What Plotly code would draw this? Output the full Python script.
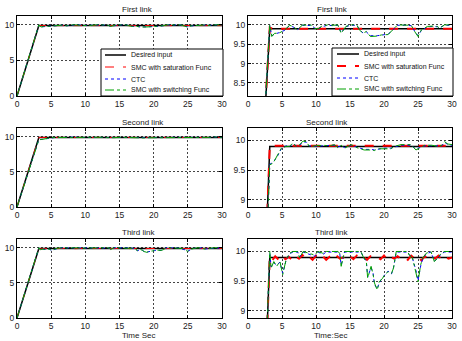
import plotly.graph_objects as go

# ---------------- data ----------------
t_des = [0, 3.2, 30]
desired = [0, 9.9, 9.9]

# First link
t1 = [0, 3.2, 3.5, 3.9, 4.6, 5.4, 6.1, 6.6, 7.3, 8.0, 8.6, 9.3, 9.8, 10.3, 10.8, 11.7, 12.5, 13.2, 13.7, 14.4,
      15.0, 16.0, 16.4, 16.9, 17.4, 18.0, 19.0, 19.6, 20.6, 21.0, 21.5, 22.0, 23.0, 24.0, 24.5, 25.0, 25.5, 26.4,
      27.2, 27.9, 28.1, 28.9, 30]
switch1 = [0, 10.0, 9.70, 9.78, 9.79, 9.87, 9.99, 9.96, 9.87, 10.0, 9.99, 10.0, 9.91, 9.90, 9.96, 10.0, 9.99, 10.0,
           9.78, 9.96, 10.0, 10.0, 9.87, 9.78, 9.83, 9.70, 9.71, 9.74, 9.75, 9.83, 9.91, 10.0, 10.0, 9.99, 9.83,
           9.70, 9.87, 9.96, 9.97, 9.96, 9.91, 10.0, 10.0]
ctc1 = [0, 9.98, 9.72, 9.76, 9.80, 9.86, 9.98, 9.95, 9.88, 9.99, 9.98, 9.99, 9.92, 9.89, 9.95, 9.99, 9.98, 9.99,
        9.80, 9.95, 9.99, 9.99, 9.88, 9.79, 9.82, 9.72, 9.72, 9.73, 9.76, 9.82, 9.90, 9.99, 9.99, 9.98, 9.84,
        9.72, 9.86, 9.95, 9.96, 9.95, 9.92, 9.99, 9.99]
t_sat1 = [0, 3.2, 3.6, 30]
sat1 = [0, 9.93, 9.90, 9.90]

# Second link
t2 = [0, 3.2, 3.7, 4.4, 4.9, 5.6, 6.1, 6.6, 7.1, 7.6, 8.1, 8.6, 9.0, 10.0, 11.0, 12.0, 12.7, 13.2, 13.7, 14.2,
      15.2, 16.2, 17.1, 18.1, 18.6, 19.0, 20.0, 21.0, 21.5, 22.5, 24.0, 24.7, 25.2, 26.0, 27.0, 28.0, 28.5, 28.9,
      29.4, 30]
switch2 = [0, 9.59, 9.62, 9.76, 9.87, 9.90, 9.90, 9.96, 9.90, 9.93, 9.99, 9.98, 9.90, 9.91, 9.92, 9.91, 9.93, 9.88,
           9.92, 9.87, 9.93, 9.87, 9.84, 9.84, 9.83, 9.86, 9.86, 9.86, 9.90, 9.93, 9.93, 9.84, 9.87, 9.92, 9.92,
           9.90, 9.92, 9.98, 9.94, 9.93]
ctc2 = [0, 9.60, 9.63, 9.75, 9.86, 9.91, 9.89, 9.95, 9.91, 9.92, 9.98, 9.97, 9.91, 9.90, 9.91, 9.92, 9.92, 9.89,
        9.91, 9.88, 9.92, 9.88, 9.85, 9.85, 9.84, 9.85, 9.87, 9.87, 9.89, 9.92, 9.92, 9.85, 9.88, 9.91, 9.91,
        9.91, 9.91, 9.97, 9.93, 9.92]
t_sat2 = [0, 3.2, 3.6, 30]
sat2 = [0, 9.91, 9.91, 9.91]

# Third link
t3 = [0, 3.2, 3.4, 3.8, 4.2, 4.7, 5.1, 5.6, 6.1, 6.6, 7.3, 7.6, 8.1, 9.8, 10.3, 11.0, 11.5, 13.2, 13.5, 13.7,
      14.2, 16.6, 16.9, 17.1, 17.4, 17.6, 18.1, 18.4, 18.6, 19.0, 19.3, 19.8, 20.1, 20.6, 21.1, 21.4, 21.8, 23.5,
      23.7, 24.2, 24.7, 25.0, 25.4, 25.7, 26.2, 26.9, 27.4, 27.9, 28.4, 28.9, 30]
switch3 = [0, 10.0, 9.72, 9.83, 9.75, 9.83, 9.61, 9.86, 9.97, 10.0, 10.0, 9.89, 10.0, 9.94, 10.0, 9.97, 10.0, 10.0,
           9.97, 9.75, 10.0, 10.0, 9.92, 9.89, 9.83, 9.55, 9.75, 9.61, 9.47, 9.35, 9.49, 9.55, 9.61, 9.66, 9.63,
           9.72, 10.0, 10.0, 9.94, 9.89, 9.66, 9.49, 9.78, 9.89, 9.97, 10.0, 9.83, 9.89, 9.97, 10.0, 10.0]
ctc3 = [0, 9.98, 9.74, 9.81, 9.77, 9.82, 9.63, 9.85, 9.96, 9.99, 9.99, 9.91, 9.99, 9.92, 9.99, 9.95, 9.99, 9.99,
        9.96, 9.77, 9.99, 9.99, 9.93, 9.88, 9.84, 9.57, 9.73, 9.63, 9.45, 9.37, 9.47, 9.57, 9.60, 9.67, 9.62,
        9.73, 9.99, 9.99, 9.95, 9.88, 9.68, 9.51, 9.76, 9.88, 9.96, 9.99, 9.84, 9.88, 9.96, 9.99, 9.99]
t_sat3 = [0, 3.2, 3.5, 4.0, 4.5, 5.0, 5.5, 6.0, 6.5, 7.0, 7.5, 8.0, 8.5, 9.0, 9.5, 10.0, 10.5, 11.0, 11.5, 12.0,
          12.5, 13.0, 13.5, 14.0, 14.5, 15.0, 15.5, 16.0, 16.5, 17.0, 17.5, 18.0, 18.5, 19.0, 19.5, 20.0, 20.5,
          21.0, 21.5, 22.0, 22.5, 23.0, 23.5, 24.0, 24.5, 25.0, 25.5, 26.0, 26.5, 27.0, 27.5, 28.0, 28.5, 29.0,
          29.5, 30.0]
sat3 = [0, 9.90,
        9.84, 9.92, 9.86, 9.93, 9.87, 9.91, 9.85, 9.92, 9.88, 9.94,
        9.87, 9.91, 9.86, 9.93, 9.88, 9.92, 9.86, 9.91, 9.87, 9.93,
        9.88, 9.90, 9.86, 9.92, 9.87, 9.93, 9.88, 9.91, 9.86, 9.92,
        9.88, 9.90, 9.87, 9.93, 9.86, 9.91, 9.88, 9.92, 9.87, 9.90,
        9.86, 9.93, 9.88, 9.91, 9.85, 9.92, 9.87, 9.91, 9.88, 9.93,
        9.86, 9.91, 9.88, 9.90]

titles = ["First link", "Second link", "Third link"]
legend_names = ["Desired input", "SMC with saturation Func", "CTC", "SMC with switching Func"]
x_titles = ["Time Sec", "Time:Sec"]
x_ticks = [0, 5, 10, 15, 20, 25, 30]

rows = [
    (t1, switch1, ctc1, t_sat1, sat1),
    (t2, switch2, ctc2, t_sat2, sat2),
    (t3, switch3, ctc3, t_sat3, sat3),
]

# ---------------- layout helpers ----------------
W, H = 462, 341
def px(x): return x / W
def py(y): return 1 - y / H

col_x = [(17, 222), (248, 452)]
row_y = [(16, 96), (128, 207), (239, 318)]
left_range = [0, 11.25]
right_ranges = [[8.16, 10.23], [8.88, 10.21], [8.88, 10.21]]
right_ticks = [[8.5, 9, 9.5, 10], [9, 9.5, 10], [9, 9.5, 10]]

FONT = "Liberation Sans, Arial, sans-serif"
RED, BLUE, GREEN = "#ff0000", "#0000ff", "#00a000"

fig = go.Figure()
layout = {}
ax = 0
for r, (tt, sw, ct, ts, sa) in enumerate(rows):
    for c in range(2):
        ax += 1
        xa = "x" if ax == 1 else f"x{ax}"
        ya = "y" if ax == 1 else f"y{ax}"
        red_w = 1 if c == 0 else 2
        fig.add_trace(go.Scatter(x=t_des, y=desired, mode="lines", xaxis=xa, yaxis=ya,
                                 line=dict(color="black", width=1.5), showlegend=False))
        fig.add_trace(go.Scatter(x=ts, y=sa, mode="lines", xaxis=xa, yaxis=ya,
                                 line=dict(color=RED, width=red_w, dash="dash"), showlegend=False))
        fig.add_trace(go.Scatter(x=tt, y=ct, mode="lines", xaxis=xa, yaxis=ya,
                                 line=dict(color=BLUE, width=1, dash="dot"), showlegend=False))
        fig.add_trace(go.Scatter(x=tt, y=sw, mode="lines", xaxis=xa, yaxis=ya,
                                 line=dict(color=GREEN, width=1, dash="dashdot"), showlegend=False))
        xk = "xaxis" if ax == 1 else f"xaxis{ax}"
        yk = "yaxis" if ax == 1 else f"yaxis{ax}"
        x0, x1 = col_x[c]
        y0, y1 = row_y[r]
        common = dict(showline=True, linecolor="black", linewidth=1, mirror="ticks",
                      ticks="inside", ticklen=3, tickcolor="black", automargin=False,
                      showgrid=True, gridcolor="#444444", gridwidth=1, griddash="2px,2px",
                      zeroline=False, tickfont=dict(family=FONT, size=8.5, color="#222"))
        layout[xk] = dict(domain=[px(x0), px(x1)], range=[0, 30], tickvals=x_ticks,
                          anchor=ya, **common)
        if c == 0:
            layout[yk] = dict(domain=[py(y1), py(y0)], range=left_range, tickvals=[0, 5, 10],
                              anchor=xa, **common)
        else:
            layout[yk] = dict(domain=[py(y1), py(y0)], range=right_ranges[r], tickvals=right_ticks[r],
                              anchor=xa, **common)

annotations = []
for r in range(3):
    for c in range(2):
        x0, x1 = col_x[c]
        annotations.append(dict(text=titles[r], x=px((x0 + x1) / 2), y=py(row_y[r][0] - 6),
                                xref="paper", yref="paper", showarrow=False, yanchor="middle",
                                font=dict(family=FONT, size=8, color="#222")))
for c in range(2):
    x0, x1 = col_x[c]
    annotations.append(dict(text=x_titles[c], x=px((x0 + x1) / 2), y=py(335),
                            xref="paper", yref="paper", showarrow=False, yanchor="middle",
                            font=dict(family=FONT, size=8, color="#222")))

shapes = []
# manual legends (compact, MATLAB-like)
legend_boxes = [
    dict(box=(101, 49, 223, 96), line_x=(105, 126), text_x=129, rows=[55, 67, 79, 90], red_w=1),
    dict(box=(332, 48, 453, 96), line_x=(337, 359), text_x=362, rows=[54, 66, 78, 89], red_w=2),
]
styles = [("black", 1.5, "solid"), (RED, None, "dash"), (BLUE, 1, "dot"), (GREEN, 1, "dashdot")]
for lb in legend_boxes:
    bx0, by0, bx1, by1 = lb["box"]
    shapes.append(dict(type="rect", xref="paper", yref="paper", x0=px(bx0), x1=px(bx1), y0=py(by1), y1=py(by0),
                       line=dict(color="black", width=1), fillcolor="white", layer="above"))
    for i, name in enumerate(legend_names):
        col, w, dsh = styles[i]
        if w is None:
            w = lb["red_w"]
        yy = lb["rows"][i]
        shapes.append(dict(type="line", xref="paper", yref="paper", x0=px(lb["line_x"][0]), x1=px(lb["line_x"][1]),
                           y0=py(yy), y1=py(yy), line=dict(color=col, width=w, dash=dsh), layer="above"))
        annotations.append(dict(text=name, x=px(lb["text_x"]), y=py(yy), xref="paper", yref="paper",
                                xanchor="left", yanchor="middle", showarrow=False,
                                font=dict(family=FONT, size=7, color="#111")))

fig.update_layout(width=W, height=H, autosize=False, margin=dict(l=0, r=0, t=0, b=0),
                  paper_bgcolor="white", plot_bgcolor="white", showlegend=False,
                  annotations=annotations, shapes=shapes, **layout)
fig.write_html("out.html", config={"displayModeBar": False},
               post_script="document.body.style.margin='0';document.body.style.overflow='hidden';")
